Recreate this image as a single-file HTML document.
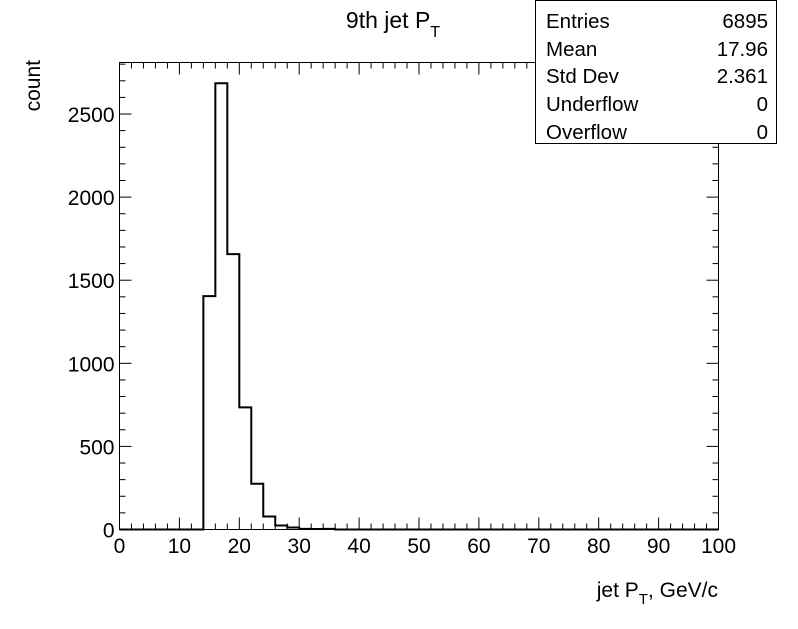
<!DOCTYPE html>
<html><head><meta charset="utf-8"><style>
body{margin:0;background:#fff;width:798px;height:624px;overflow:hidden;font-family:"Liberation Sans",Arial,sans-serif}
svg text{font-family:"Liberation Sans",Arial,sans-serif}
</style></head><body>
<svg id="chart" width="798" height="624" xmlns="http://www.w3.org/2000/svg">
<g id="axes"></g>
<path id="hist" fill="none" stroke="#000" stroke-width="2"/>
<text x="393" y="28" font-size="23" text-anchor="middle">9th jet P<tspan font-size="16" dy="9">T</tspan></text>
<text x="718" y="597" font-size="21" text-anchor="end">jet P<tspan font-size="15" dy="7">T</tspan><tspan dy="-7">, GeV/c</tspan></text>
<text transform="translate(40,60) rotate(-90)" font-size="21" text-anchor="end">count</text>
<g>
<rect x="535.5" y="0.5" width="241" height="143" fill="#fff" stroke="#000" stroke-width="1"/>
<g font-size="20.5">
<text x="546" y="28">Entries</text><text x="768" y="28" text-anchor="end">6895</text>
<text x="546" y="56">Mean</text><text x="768" y="56" text-anchor="end">17.96</text>
<text x="546" y="83">Std Dev</text><text x="768" y="83" text-anchor="end">2.361</text>
<text x="546" y="111">Underflow</text><text x="768" y="111" text-anchor="end">0</text>
<text x="546" y="139">Overflow</text><text x="768" y="139" text-anchor="end">0</text>
</g></g>
</svg>
<script>
const binEdges=[0,2,4,6,8,10,12,14,16,18,20,22,24,26,28,30,32,34,36,38];
const counts=[0,0,0,0,0,0,0,1404,2685,1657,735,275,78,24,12,4,3,4,0];
const xTicks=[0,10,20,30,40,50,60,70,80,90,100];
const yTicks=[0,500,1000,1500,2000,2500];
const L=119.5,R=718.5,T=62.5,B=529.5,XMAX=100,YMAX=2810;
const sx=v=>L+(R-L)*v/XMAX, sy=v=>B-(B-T)*v/YMAX;
const ns="http://www.w3.org/2000/svg";
const ax=document.getElementById('axes');
function line(x1,y1,x2,y2,name){const l=document.createElementNS(ns,'line');
l.setAttribute('x1',x1);l.setAttribute('y1',y1);l.setAttribute('x2',x2);l.setAttribute('y2',y2);
l.setAttribute('stroke','#000');l.setAttribute('stroke-width','1');


ax.appendChild(l);}
function text(x,y,s,anchor,name){const t=document.createElementNS(ns,'text');
t.setAttribute('x',x);t.setAttribute('y',y);t.setAttribute('font-size','21');t.setAttribute('text-anchor',anchor);t.textContent=s;


ax.appendChild(t);}
const fr=document.createElementNS(ns,'rect');
fr.setAttribute('x',L);fr.setAttribute('y',T);fr.setAttribute('width',R-L);fr.setAttribute('height',B-T);
fr.setAttribute('fill','none');fr.setAttribute('stroke','#000');


ax.appendChild(fr);
for(let v=0;v<=XMAX;v+=2){const x=sx(v);const len=(v%10===0)?12:6;
line(x,B,x,B-len,'x-tick');line(x,T,x,T+len,'x-tick-top');}
for(let v=0;v<=YMAX;v+=100){const y=sy(v);const len=(v%500===0)?12:6;
line(L,y,L+len,y,'y-tick');line(R,y,R-len,y,'y-tick-right');}
xTicks.forEach(v=>text(sx(v),553,String(v),'middle','x-tick-label'));
yTicks.forEach(v=>text(L-5,sy(v)+8,String(v),'end','y-tick-label'));
let d='M'+sx(binEdges[0])+','+sy(0);
counts.forEach((c,i)=>{d+=' L'+sx(binEdges[i])+','+sy(c)+' L'+sx(binEdges[i+1])+','+sy(c);});
d+=' L'+sx(XMAX)+','+sy(0);
document.getElementById('hist').setAttribute('d',d);
</script>
</body></html>
